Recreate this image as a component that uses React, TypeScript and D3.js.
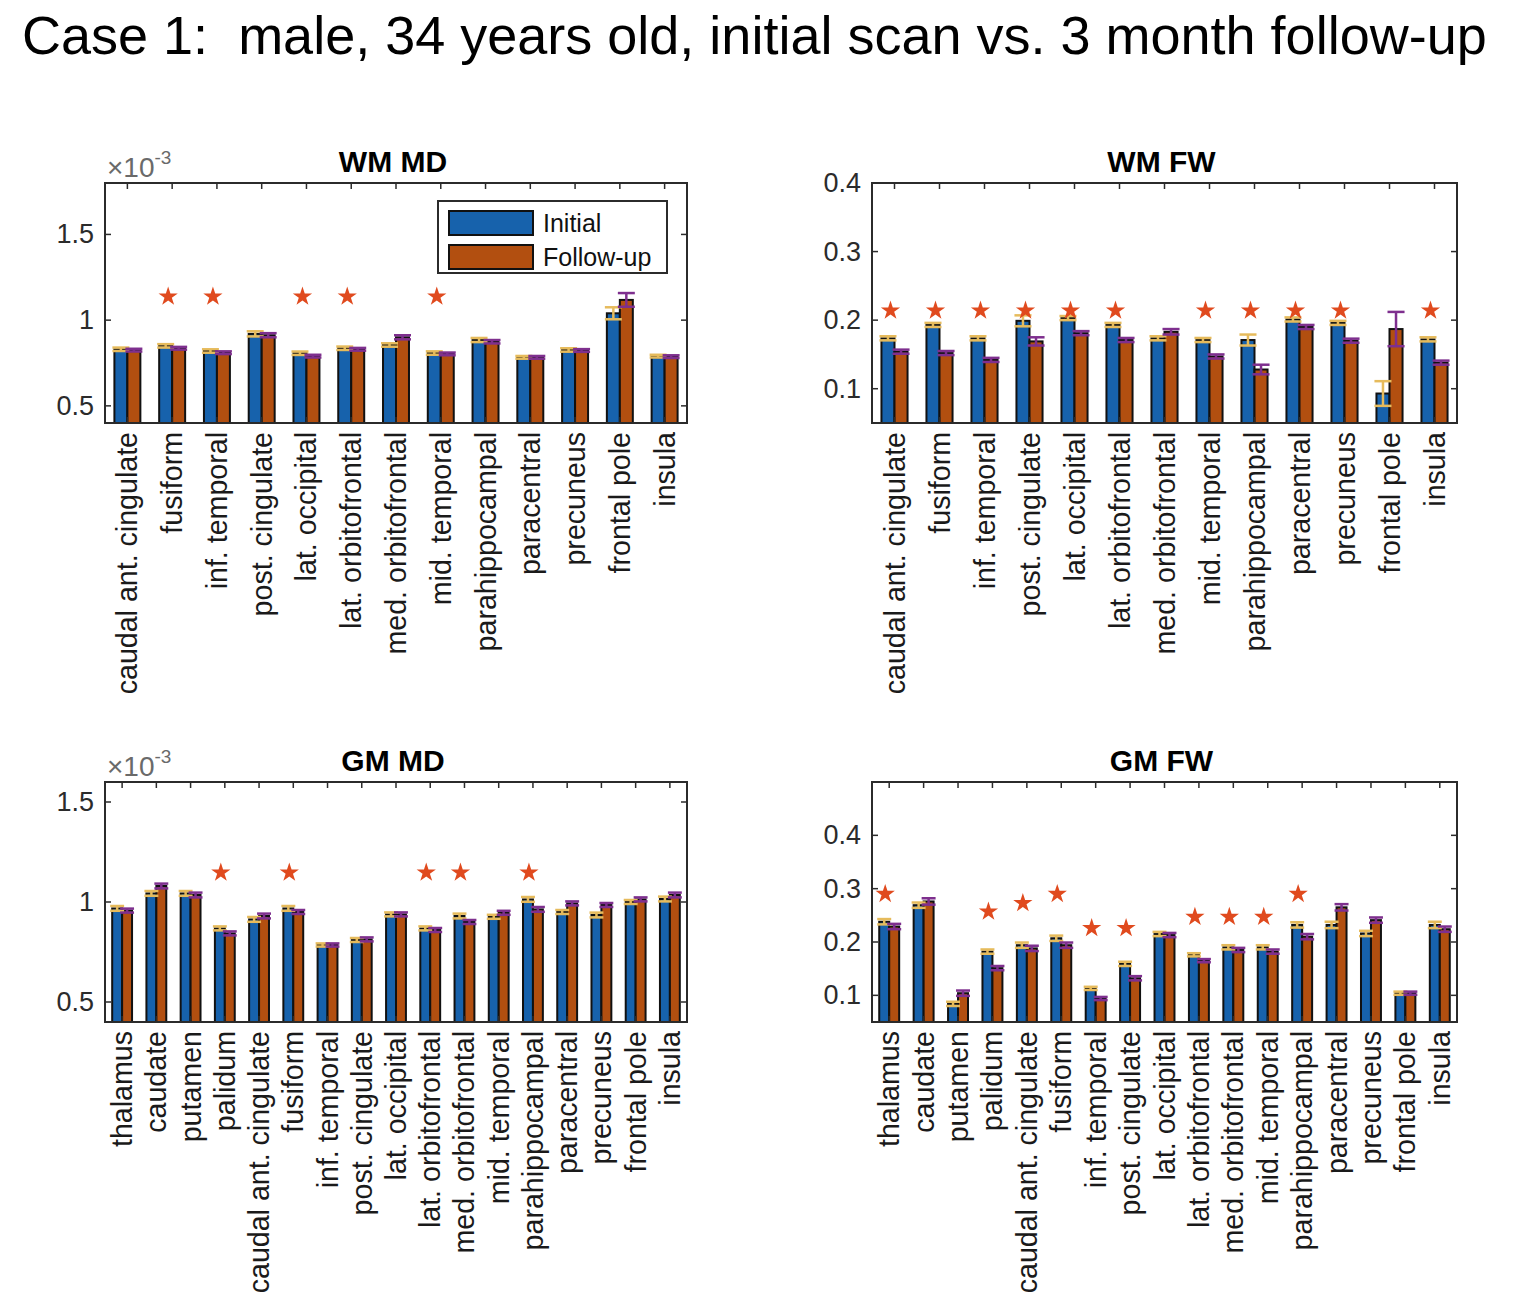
import * as d3 from "d3";

const wmRegions = [
  "caudal ant. cingulate", "fusiform", "inf. temporal", "post. cingulate", "lat. occipital",
  "lat. orbitofrontal", "med. orbitofrontal", "mid. temporal", "parahippocampal", "paracentral",
  "precuneus", "frontal pole", "insula",
];
const gmRegions = [
  "thalamus", "caudate", "putamen", "palidum", "caudal ant. cingulate", "fusiform", "inf. temporal",
  "post. cingulate", "lat. occipital", "lat. orbitofrontal", "med. orbitofrontal", "mid. temporal",
  "parahippocampal", "paracentral", "precuneus", "frontal pole", "insula",
];
const seriesNames = ["Initial", "Follow-up"];

// WM MD (x 10^-3)
const wmMdInitial = [0.83, 0.85, 0.82, 0.92, 0.807, 0.836, 0.855, 0.808, 0.884, 0.783, 0.826, 1.04, 0.79];
const wmMdFollow = [0.825, 0.836, 0.81, 0.912, 0.79, 0.83, 0.9, 0.803, 0.874, 0.783, 0.823, 1.118, 0.787];
const wmMdInitialErr = [0.01, 0.01, 0.01, 0.015, 0.01, 0.01, 0.01, 0.01, 0.012, 0.008, 0.01, 0.035, 0.008];
const wmMdFollowErr = [0.008, 0.008, 0.008, 0.012, 0.008, 0.008, 0.012, 0.008, 0.01, 0.008, 0.008, 0.04, 0.008];
const wmMdStars = [null, 1.137, 1.137, null, 1.137, 1.137, null, 1.137, null, null, null, null, null];

// WM FW
const wmFwInitial = [0.1735, 0.193, 0.1735, 0.199, 0.203, 0.193, 0.1735, 0.171, 0.171, 0.201, 0.196, 0.093, 0.172];
const wmFwFollow = [0.154, 0.152, 0.142, 0.169, 0.181, 0.171, 0.183, 0.147, 0.128, 0.19, 0.17, 0.187, 0.138];
const wmFwInitialErr = [0.003, 0.003, 0.003, 0.008, 0.003, 0.003, 0.003, 0.003, 0.008, 0.003, 0.003, 0.018, 0.003];
const wmFwFollowErr = [0.003, 0.003, 0.003, 0.006, 0.003, 0.003, 0.004, 0.003, 0.007, 0.003, 0.003, 0.025, 0.003];
const wmFwStars = [0.214, 0.214, 0.214, 0.214, 0.214, 0.214, null, 0.214, 0.214, 0.214, 0.214, null, 0.214];

// GM MD (x 10^-3)
const gmMdInitial = [0.968, 1.043, 1.043, 0.868, 0.913, 0.968, 0.785, 0.81, 0.938, 0.868, 0.93, 0.926, 1.013, 0.95, 0.935, 1.0, 1.015];
const gmMdFollow = [0.957, 1.08, 1.035, 0.843, 0.93, 0.95, 0.785, 0.813, 0.938, 0.86, 0.9, 0.946, 0.963, 0.993, 0.985, 1.013, 1.035];
const gmMdInitialErr = [0.012, 0.012, 0.012, 0.01, 0.012, 0.012, 0.008, 0.01, 0.01, 0.01, 0.012, 0.01, 0.012, 0.01, 0.012, 0.01, 0.012];
const gmMdFollowErr = [0.01, 0.012, 0.012, 0.01, 0.012, 0.01, 0.008, 0.01, 0.01, 0.01, 0.01, 0.01, 0.012, 0.01, 0.01, 0.01, 0.012];
const gmMdStars = [null, null, null, 1.147, null, 1.147, null, null, null, 1.147, 1.147, null, 1.147, null, null, null, null];

// GM FW
const gmFwInitial = [0.238, 0.269, 0.084, 0.182, 0.194, 0.207, 0.113, 0.159, 0.215, 0.176, 0.19, 0.19, 0.232, 0.232, 0.216, 0.104, 0.232];
const gmFwFollow = [0.229, 0.276, 0.104, 0.151, 0.188, 0.194, 0.094, 0.132, 0.213, 0.165, 0.185, 0.182, 0.21, 0.265, 0.241, 0.104, 0.224];
const gmFwInitialErr = [0.005, 0.005, 0.004, 0.004, 0.005, 0.005, 0.003, 0.004, 0.004, 0.003, 0.004, 0.004, 0.005, 0.006, 0.005, 0.003, 0.006];
const gmFwFollowErr = [0.005, 0.006, 0.005, 0.004, 0.005, 0.005, 0.003, 0.004, 0.004, 0.003, 0.004, 0.004, 0.005, 0.006, 0.005, 0.003, 0.005];
const gmFwStars = [0.29, null, null, 0.257, 0.273, 0.29, 0.226, 0.226, null, 0.247, 0.247, 0.247, 0.29, null, null, null, null];

const FONT = "'Liberation Sans', Arial, Helvetica, sans-serif";
const AXIS = "#2b2b2b";
const BAR_COLORS = ["#1762ac", "#b24f10"];
const ERR_COLORS = ["#e6bb5c", "#7e2f8e"];
const STAR_COLOR = "#e04a1e";

interface PanelProps {
  title: string;
  categories: string[];
  initial: number[];
  follow: number[];
  initialErr: number[];
  followErr: number[];
  stars: (number | null)[];
  domain: [number, number];
  ticks: number[];
  box: { x0: number; x1: number; y0: number; y1: number };
  exponent?: boolean;
  legend?: boolean;
}

function Panel(p: PanelProps) {
  const { x0, x1, y0, y1 } = p.box;
  const x = d3.scaleBand<string>().domain(p.categories).range([x0, x1]).paddingInner(0).paddingOuter(0);
  const bw = x.bandwidth();
  const inner = d3.scaleBand<string>().domain(seriesNames).range([-0.29 * bw, 0.29 * bw]);
  const barW = inner.bandwidth();
  const y = d3.scaleLinear().domain(p.domain).range([y1, y0]);
  const values = [p.initial, p.follow];
  const errs = [p.initialErr, p.followErr];
  const star = d3.symbol(d3.symbolStar, 115)() || "";
  const capW = barW + 4;
  const tickLen = 6;

  return (
    <g>
      <text x={(x0 + x1) / 2 - 3} y={y0 - 11} textAnchor="middle" fontFamily={FONT} fontWeight="bold" fontSize={30} fill="#000">
        {p.title}
      </text>
      {p.exponent && (
        <text x={x0 + 2} y={y0 - 6} fontFamily={FONT} fontSize={28} fill="#6a6a6a">
          ×10<tspan dy={-13} fontSize={19}>-3</tspan>
        </text>
      )}
      {/* bars */}
      {p.categories.map((c, i) => {
        const cx = (x(c) || 0) + bw / 2;
        return (
          <g key={c + i}>
            {seriesNames.map((s, k) => {
              const v = values[k][i];
              const bx = cx + (inner(s) || 0);
              return (
                <rect key={s} x={bx} y={y(v)} width={barW} height={y1 - y(v)} fill={BAR_COLORS[k]} stroke="#111" strokeWidth={2} />
              );
            })}
            {seriesNames.map((s, k) => {
              const v = values[k][i];
              const e = errs[k][i];
              const ex = cx + (inner(s) || 0) + barW / 2;
              return (
                <g key={s} stroke={ERR_COLORS[k]} strokeWidth={2.5}>
                  <line x1={ex} x2={ex} y1={y(v - e)} y2={y(v + e)} />
                  <line x1={ex - capW / 2} x2={ex + capW / 2} y1={y(v - e)} y2={y(v - e)} />
                  <line x1={ex - capW / 2} x2={ex + capW / 2} y1={y(v + e)} y2={y(v + e)} />
                </g>
              );
            })}
            {p.stars[i] != null && (
              <path d={star} transform={`translate(${cx - 4},${y(p.stars[i] as number)})`} fill={STAR_COLOR} />
            )}
          </g>
        );
      })}
      {/* axes box */}
      <rect x={x0} y={y0} width={x1 - x0} height={y1 - y0} fill="none" stroke={AXIS} strokeWidth={2} />
      {p.categories.map((c, i) => {
        const cx = (x(c) || 0) + bw / 2;
        return (
          <g key={"t" + i}>
            <line x1={cx} x2={cx} y1={y1} y2={y1 - tickLen} stroke={AXIS} strokeWidth={1.5} />
            <line x1={cx} x2={cx} y1={y0} y2={y0 + tickLen} stroke={AXIS} strokeWidth={1.5} />
            <text
              transform={`translate(${cx},${y1 + 9}) rotate(-90)`}
              textAnchor="end"
              dominantBaseline="central"
              fontFamily={FONT}
              fontSize={28.6}
              fill="#1a1a1a"
            >
              {c}
            </text>
          </g>
        );
      })}
      {p.ticks.map((t) => (
        <g key={"y" + t}>
          <line x1={x0} x2={x0 + tickLen} y1={y(t)} y2={y(t)} stroke={AXIS} strokeWidth={1.5} />
          <line x1={x1} x2={x1 - tickLen} y1={y(t)} y2={y(t)} stroke={AXIS} strokeWidth={1.5} />
          <text x={x0 - 11} y={y(t)} textAnchor="end" dominantBaseline="central" fontFamily={FONT} fontSize={27} fill="#2b2b2b">
            {d3.format("~g")(t)}
          </text>
        </g>
      ))}
      {p.legend && (
        <g>
          <rect x={438} y={201} width={229} height={72} fill="#fff" stroke={AXIS} strokeWidth={2} />
          {seriesNames.map((s, k) => (
            <g key={s}>
              <rect x={449} y={211 + k * 34} width={84} height={24} fill={BAR_COLORS[k]} stroke="#111" strokeWidth={2} />
              <text x={543} y={223 + k * 34} dominantBaseline="central" fontFamily={FONT} fontSize={25} fill="#111">
                {s}
              </text>
            </g>
          ))}
        </g>
      )}
    </g>
  );
}

export default function App() {
  return (
    <div style={{ position: "absolute", left: 0, top: 0, background: "#fff" }}>
      <svg width={1514} height={1304} viewBox="0 0 1514 1304" style={{ display: "block" }}>
        <rect width={1514} height={1304} fill="#fff" />
        <text x={22} y={54} fontFamily={FONT} fontSize={54} fill="#000">
          Case 1:{"\u00a0\u00a0"}male, 34 years old, initial scan vs. 3 month follow-up
        </text>
        <Panel
          title="WM MD"
          categories={wmRegions}
          initial={wmMdInitial}
          follow={wmMdFollow}
          initialErr={wmMdInitialErr}
          followErr={wmMdFollowErr}
          stars={wmMdStars}
          domain={[0.4, 1.8]}
          ticks={[0.5, 1, 1.5]}
          box={{ x0: 105, x1: 687, y0: 183, y1: 423 }}
          exponent
          legend
        />
        <Panel
          title="WM FW"
          categories={wmRegions}
          initial={wmFwInitial}
          follow={wmFwFollow}
          initialErr={wmFwInitialErr}
          followErr={wmFwFollowErr}
          stars={wmFwStars}
          domain={[0.05, 0.4]}
          ticks={[0.1, 0.2, 0.3, 0.4]}
          box={{ x0: 872, x1: 1457, y0: 183, y1: 423 }}
        />
        <Panel
          title="GM MD"
          categories={gmRegions}
          initial={gmMdInitial}
          follow={gmMdFollow}
          initialErr={gmMdInitialErr}
          followErr={gmMdFollowErr}
          stars={gmMdStars}
          domain={[0.4, 1.6]}
          ticks={[0.5, 1, 1.5]}
          box={{ x0: 105, x1: 687, y0: 782, y1: 1022 }}
          exponent
        />
        <Panel
          title="GM FW"
          categories={gmRegions}
          initial={gmFwInitial}
          follow={gmFwFollow}
          initialErr={gmFwInitialErr}
          followErr={gmFwFollowErr}
          stars={gmFwStars}
          domain={[0.05, 0.5]}
          ticks={[0.1, 0.2, 0.3, 0.4]}
          box={{ x0: 872, x1: 1457, y0: 782, y1: 1022 }}
        />
      </svg>
    </div>
  );
}
